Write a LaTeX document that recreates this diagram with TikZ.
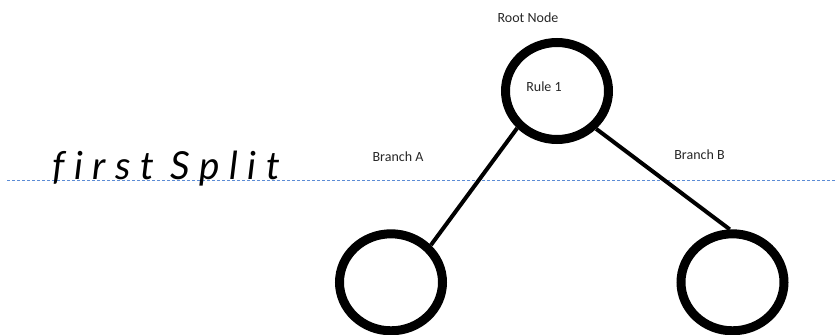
\documentclass[tikz,border=0pt]{standalone}
\usepackage{fontspec}
\setmainfont{Carlito}
\newfontfamily\handfont[LetterSpace=25,Ligatures=NoCommon]{Lato Italic}
\usetikzlibrary{shapes.geometric}
\definecolor{splitblue}{RGB}{91,140,214}
\tikzset{
  treenode/.style={draw=black, line width=6.75pt, ellipse, minimum width=77.25pt, minimum height=72.75pt, inner sep=0pt},
  edgeline/.style={draw=black, line width=3pt},
  lbl/.style={font=\fontsize{10.5pt}{12pt}\selectfont, inner sep=0pt, text=black!85},
  splitline/.style={draw=splitblue, line width=0.7pt, dash pattern=on 2.25pt off 1.5pt},
}
\begin{document}
\begin{tikzpicture}[x=0.75pt, y=-0.75pt]
  \useasboundingbox (0,0) rectangle (836,335);
  % dashed split line
  \coordinate (sl) at (7,180);
  \coordinate (sr) at (836,180);
  \draw[splitline] (sl) -- (sr);
  % nodes
  \node[treenode] (root) at (557,91) {};
  \node[treenode] (left) at (391,282.3) {};
  \node[treenode] (right) at (732.5,282.3) {};
  % edges
  \draw[edgeline] (root.223) -- (left.43);
  \draw[edgeline] (root.316) -- (right.93);
  % labels
  \node[lbl] (rootlbl) at (528,18) {Root Node};
  \node[lbl] (rulelbl) at (544,87) {Rule 1};
  \node[lbl] (brA) at (398,157) {Branch A};
  \node[lbl] (brB) at (699.5,155) {Branch B};
  \node[inner sep=0pt, anchor=base west, font=\handfont\fontsize{29pt}{34pt}\selectfont] (split) at (52,180) {first\hspace{12pt}Split};
\end{tikzpicture}
\end{document}
